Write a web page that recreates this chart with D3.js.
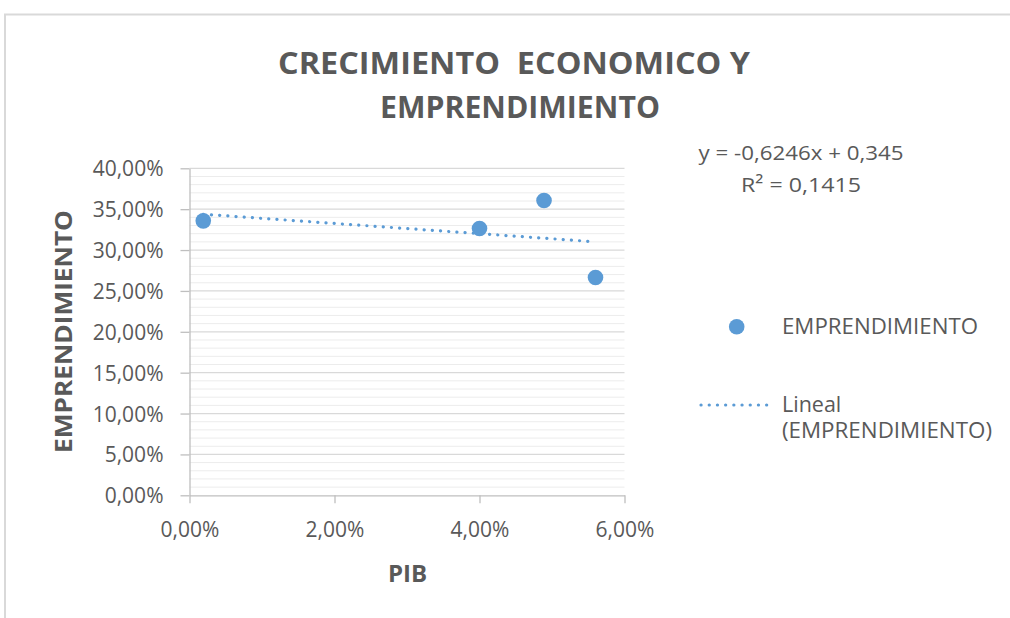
<!DOCTYPE html>
<html>
<head>
<meta charset="utf-8">
<script src="https://cdn.jsdelivr.net/npm/d3@7/dist/d3.min.js"></script>
<style>
  html, body { margin: 0; padding: 0; background: #fff; }
  svg { display: block; font-family: "Open Sans", "Noto Sans", sans-serif; }
</style>
</head>
<body>
<svg id="chart" width="1010" height="618"></svg>
<script>
// ---- data ----
const pib = [0.0019, 0.0400, 0.0489, 0.0560];
const emprendimiento = [0.3357, 0.3264, 0.3607, 0.2664];
const trendSlope = -0.6246;
const trendIntercept = 0.345;
const xTicks = [0, 0.02, 0.04, 0.06];
const yTicks = [0, 0.05, 0.10, 0.15, 0.20, 0.25, 0.30, 0.35, 0.40];
const yMinorTicks = d3.range(0, 41).map(d => d / 100);
const titleLines = ["CRECIMIENTO  ECONOMICO Y", "EMPRENDIMIENTO"];
const xTitle = "PIB";
const yTitle = "EMPRENDIMIENTO";
const seriesName = "EMPRENDIMIENTO";
const trendNameLines = ["Lineal", "(EMPRENDIMIENTO)"];
const equationLines = ["y = -0,6246x + 0,345", "R² = 0,1415"];

// ---- setup ----
const svg = d3.select("#chart");
const blue = "#5B9BD5";
const textColor = "#595959";

const es = d3.formatLocale({decimal: ",", thousands: ".", grouping: [3], currency: ["", "€"]});
const pct = es.format(".2%");

const x = d3.scaleLinear().domain([0, 0.06]).range([189.5, 624.5]);
const y = d3.scaleLinear().domain([0, 0.40]).range([495.3, 168.3]);

// chart border (top & left visible)
svg.append("line").attr("x1", 4).attr("x2", 1010).attr("y1", 14.5).attr("y2", 14.5)
  .attr("stroke", "#d9d9d9").attr("stroke-width", 2);
svg.append("line").attr("x1", 5).attr("x2", 5).attr("y1", 14).attr("y2", 618)
  .attr("stroke", "#d9d9d9").attr("stroke-width", 2);

// title
const titleY = [73.5, 117.5];
const titleX = [514, 520];
const titleW = [472, 280];
titleLines.forEach((t, i) => {
  svg.append("text")
    .attr("x", titleX[i]).attr("y", titleY[i])
    .attr("text-anchor", "middle")
    .attr("font-size", 30).attr("font-weight", 700)
    .attr("fill", textColor)
    .attr("textLength", titleW[i]).attr("lengthAdjust", "spacingAndGlyphs")
    .style("white-space", "pre")
    .text(t);
});

// minor gridlines
svg.append("g").selectAll("line").data(yMinorTicks.filter(d => Math.round(d * 100) % 5 !== 0))
  .join("line")
  .attr("x1", x(0)).attr("x2", x(0.06))
  .attr("y1", d => y(d)).attr("y2", d => y(d))
  .attr("stroke", "#ececec").attr("stroke-width", 1);

// major gridlines
svg.append("g").selectAll("line").data(yTicks.filter(d => d > 0))
  .join("line")
  .attr("x1", x(0)).attr("x2", x(0.06))
  .attr("y1", d => y(d)).attr("y2", d => y(d))
  .attr("stroke", "#d9d9d9").attr("stroke-width", 1.2);

// y axis
const yAxis = svg.append("g")
  .attr("transform", `translate(${x(0)},0)`)
  .call(d3.axisLeft(y).tickValues(yTicks).tickFormat(pct).tickSize(9).tickPadding(17).tickSizeOuter(0));
yAxis.select(".domain").attr("stroke", "#bfbfbf").attr("stroke-width", 1.3);
yAxis.selectAll(".tick line").attr("stroke", "#bfbfbf").attr("stroke-width", 1.3);
yAxis.selectAll(".tick text").attr("fill", textColor).attr("font-size", 21)
  .attr("font-family", "'Open Sans', sans-serif").attr("dy", "0.36em");

// x axis
const xAxis = svg.append("g")
  .attr("transform", `translate(0,${y(0)})`)
  .call(d3.axisBottom(x).tickValues(xTicks).tickFormat(pct).tickSize(8).tickPadding(18.5).tickSizeOuter(0));
xAxis.select(".domain").attr("stroke", "#bfbfbf").attr("stroke-width", 1.3);
xAxis.selectAll(".tick line").attr("stroke", "#bfbfbf").attr("stroke-width", 1.3);
xAxis.selectAll(".tick text").attr("fill", textColor).attr("font-size", 21)
  .attr("font-family", "'Open Sans', sans-serif");

// axis titles
svg.append("text")
  .attr("transform", "translate(72,331.5) rotate(-90)")
  .attr("text-anchor", "middle")
  .attr("font-size", 24).attr("font-weight", 700).attr("fill", textColor)
  .attr("textLength", 243).attr("lengthAdjust", "spacingAndGlyphs")
  .text(yTitle);
svg.append("text")
  .attr("x", 407.5).attr("y", 581.7)
  .attr("text-anchor", "middle")
  .attr("font-size", 24).attr("font-weight", 700).attr("fill", textColor)
  .text(xTitle);

// trend line
const xExt = d3.extent(pib);
svg.append("line")
  .attr("x1", x(xExt[0])).attr("y1", y(trendSlope * xExt[0] + trendIntercept))
  .attr("x2", x(xExt[1])).attr("y2", y(trendSlope * xExt[1] + trendIntercept))
  .attr("stroke", blue).attr("stroke-width", 3.2)
  .attr("stroke-linecap", "round").attr("stroke-dasharray", "0.1 8.1");

// points
svg.append("g").selectAll("circle").data(pib.map((p, i) => [p, emprendimiento[i]]))
  .join("circle")
  .attr("cx", d => x(d[0])).attr("cy", d => y(d[1]))
  .attr("r", 7.8).attr("fill", blue);

// equation
const eqX = 801;
const eqY = [160, 191.7];
const eqW = [205, 120];
equationLines.forEach((t, i) => {
  svg.append("text")
    .attr("x", eqX).attr("y", eqY[i]).attr("text-anchor", "middle")
    .attr("font-size", 20).attr("fill", textColor)
    .attr("textLength", eqW[i]).attr("lengthAdjust", "spacingAndGlyphs")
    .text(t);
});

// legend
const lg = svg.append("g");
lg.append("circle").attr("cx", 736.7).attr("cy", 326.7).attr("r", 7.8).attr("fill", blue);
lg.append("text").attr("x", 782).attr("y", 334).attr("font-size", 21.5).attr("fill", textColor)
  .attr("textLength", 196).attr("lengthAdjust", "spacingAndGlyphs")
  .text(seriesName);
lg.append("line").attr("x1", 701).attr("x2", 768).attr("y1", 405).attr("y2", 405)
  .attr("stroke", blue).attr("stroke-width", 3.2)
  .attr("stroke-linecap", "round").attr("stroke-dasharray", "0.1 8.1");
const lgY = [411.7, 438.4];
const lgW = [null, 210];
trendNameLines.forEach((t, i) => {
  const tx = lg.append("text").attr("x", 782).attr("y", lgY[i]).attr("font-size", 21.5).attr("fill", textColor)
    .text(t);
  if (lgW[i]) tx.attr("textLength", lgW[i]).attr("lengthAdjust", "spacingAndGlyphs");
});
</script>
</body>
</html>
